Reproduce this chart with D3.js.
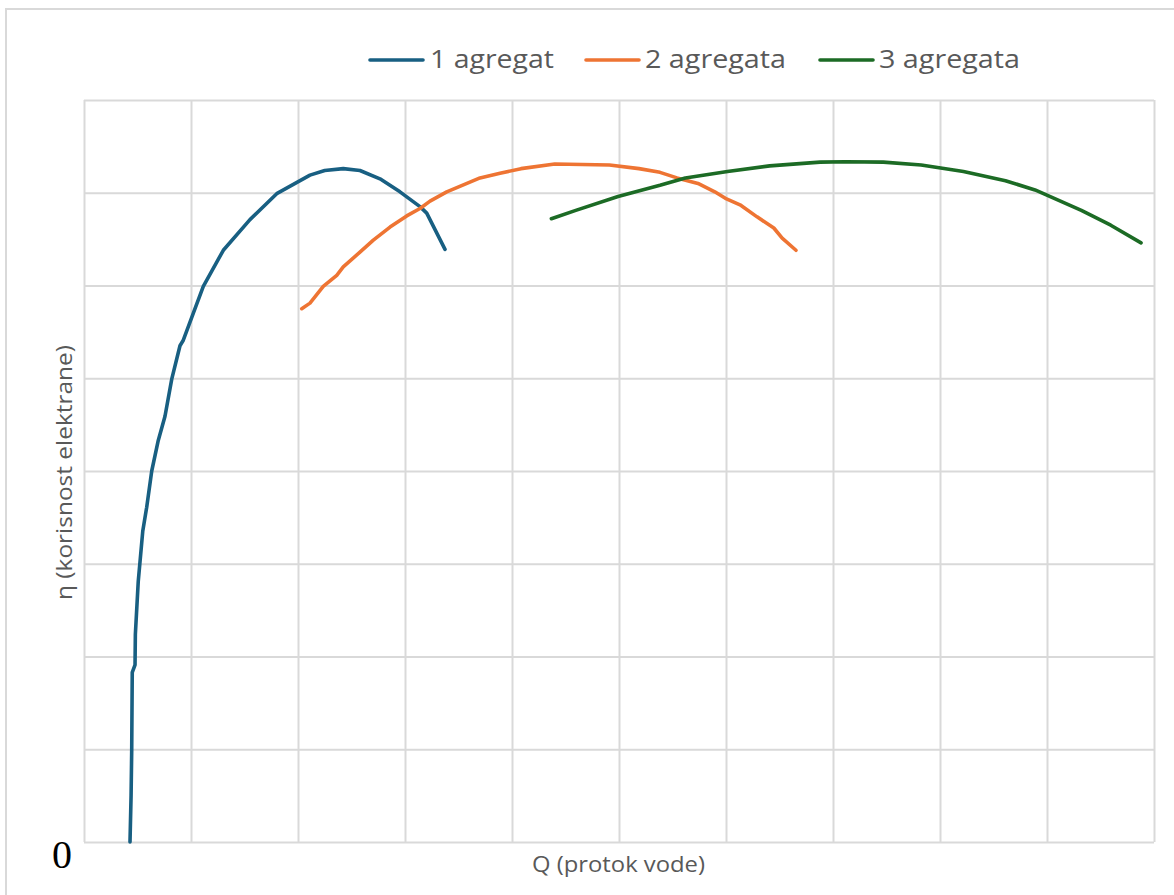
<!DOCTYPE html>
<html>
<head>
<meta charset="utf-8">
<script src="https://cdn.jsdelivr.net/npm/d3@7"></script>
<style>
  html, body { margin: 0; padding: 0; background: #fff; }
  svg { display: block; }
  text { font-family: "Open Sans", "Liberation Sans", sans-serif; fill: #595959; }
</style>
</head>
<body>
<svg id="chart" width="1174" height="895"></svg>
<script>
// Efficiency curves η(Q) for one, two and three generating units
const seriesNames = ["1 agregat", "2 agregata", "3 agregata"];
const seriesColors = ["#185f82", "#ee7433", "#1c6b25"];

const agregat1 = [
  [0.43, 0.00], [0.44, 0.50], [0.446, 1.00], [0.451, 1.83], [0.477, 1.91],
  [0.48, 2.24], [0.507, 2.81], [0.549, 3.35], [0.586, 3.61], [0.633, 4.00],
  [0.694, 4.33], [0.757, 4.59], [0.82, 4.99], [0.897, 5.35], [0.928, 5.41],
  [1.021, 5.70], [1.115, 5.99], [1.302, 6.38], [1.551, 6.71], [1.801, 6.99],
  [2.112, 7.19], [2.25, 7.24], [2.423, 7.26], [2.579, 7.24], [2.766, 7.15],
  [2.953, 7.01], [3.14, 6.85], [3.203, 6.78], [3.374, 6.39]
];

const agregata2 = [
  [2.035, 5.75], [2.112, 5.81], [2.236, 5.99], [2.362, 6.11], [2.423, 6.20],
  [2.579, 6.36], [2.704, 6.49], [2.86, 6.63], [3.016, 6.75], [3.14, 6.83],
  [3.234, 6.91], [3.39, 7.01], [3.701, 7.16], [3.888, 7.21], [4.084, 7.26],
  [4.40, 7.31], [4.911, 7.30], [5.187, 7.26], [5.383, 7.22], [5.542, 7.16],
  [5.738, 7.10], [5.895, 7.01], [5.994, 6.94], [6.131, 6.87], [6.29, 6.74],
  [6.447, 6.62], [6.525, 6.51], [6.654, 6.38]
];

const agregata3 = [
  [4.368, 6.72], [4.596, 6.81], [4.991, 6.96], [5.383, 7.08], [5.62, 7.16],
  [6.014, 7.23], [6.408, 7.29], [6.879, 7.33], [7.116, 7.335], [7.47, 7.33],
  [7.824, 7.30], [8.219, 7.23], [8.612, 7.13], [8.888, 7.03], [9.321, 6.81],
  [9.596, 6.65], [9.879, 6.46]
];

const xTicks = d3.range(0, 11);   // vertical grid lines
const yTicks = d3.range(0, 9);    // horizontal grid lines
const yTickLabels = ["0"];

const W = 1174, H = 895;
const plot = { left: 84, top: 100, right: 1154, bottom: 842 };

const svg = d3.select("#chart");

// outer chart frame
svg.append("rect")
  .attr("x", 6).attr("y", 9)
  .attr("width", W + 20).attr("height", H + 20)
  .attr("fill", "#fff")
  .attr("stroke", "#d9d9d9").attr("stroke-width", 2);

const x = d3.scaleLinear().domain([0, 10]).range([plot.left, plot.right]);
const y = d3.scaleLinear().domain([0, 8]).range([plot.bottom, plot.top]);

// grid
const grid = svg.append("g");
grid.append("g")
  .attr("transform", `translate(0,${plot.bottom})`)
  .call(d3.axisBottom(x).tickValues(xTicks).tickSize(-(plot.bottom - plot.top)).tickFormat(""))
  .call(g => g.select(".domain").remove())
  .call(g => g.selectAll("line").attr("stroke", "#d9d9d9").attr("stroke-width", 2));
grid.append("g")
  .attr("transform", `translate(${plot.left},0)`)
  .call(d3.axisLeft(y).tickValues(yTicks).tickSize(-(plot.right - plot.left)).tickFormat(""))
  .call(g => g.select(".domain").remove())
  .call(g => g.selectAll("line").attr("stroke", "#d9d9d9").attr("stroke-width", 2));

// y-axis zero label
svg.append("text")
  .attr("x", x(0) - 22).attr("y", y(0) + 26)
  .attr("text-anchor", "middle")
  .style("font-family", "'Liberation Serif', 'Times New Roman', serif")
  .style("font-size", "40px")
  .style("fill", "#000")
  .text(yTickLabels[0]);

// curves
const line = d3.line().x(d => x(d[0])).y(d => y(d[1])).curve(d3.curveLinear);
[agregat1, agregata2, agregata3].forEach((data, i) => {
  svg.append("path")
    .datum(data)
    .attr("d", line)
    .attr("fill", "none")
    .attr("stroke", seriesColors[i])
    .attr("stroke-width", 3.6)
    .attr("stroke-linejoin", "round")
    .attr("stroke-linecap", "round");
});

// axis titles
svg.append("text")
  .attr("x", 532).attr("y", 872)
  .attr("textLength", 173)
  .attr("lengthAdjust", "spacingAndGlyphs")
  .style("font-size", "21px")
  .text("Q (protok vode)");

svg.append("text")
  .attr("transform", `translate(72,600) rotate(-90)`)
  .attr("textLength", 255)
  .attr("lengthAdjust", "spacingAndGlyphs")
  .style("font-size", "21px")
  .text("η (korisnost elektrane)");

// legend
const legendLineX = [370, 586, 820];
const legendTextX = [430, 645, 879];
const legendTextW = [124, 141, 141];
const legend = svg.append("g");
seriesNames.forEach((name, i) => {
  legend.append("line")
    .attr("x1", legendLineX[i]).attr("x2", legendLineX[i] + 53)
    .attr("y1", 60).attr("y2", 60)
    .attr("stroke", seriesColors[i]).attr("stroke-width", 3.6)
    .attr("stroke-linecap", "round");
  legend.append("text")
    .attr("x", legendTextX[i]).attr("y", 68)
    .attr("textLength", legendTextW[i])
    .attr("lengthAdjust", "spacingAndGlyphs")
    .style("font-size", "25px")
    .text(name);
});
</script>
</body>
</html>
